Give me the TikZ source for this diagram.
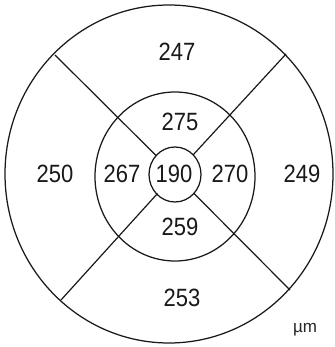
\documentclass[tikz,border=0pt]{standalone}
\usepackage{fontspec}
\setmainfont{Liberation Sans}
\begin{document}
\begin{tikzpicture}[x=1pt,y=-1pt,
  ring/.style={line width=1.25pt,draw=black!90},
  spoke/.style={line width=1.2pt,draw=black!90},
  val/.style={font=\fontsize{25}{25}\selectfont,xscale=0.88,inner sep=0pt,text=black!90},
  unit/.style={font=\fontsize{17}{17}\selectfont,inner sep=0pt,text=black!85}]
\useasboundingbox (0,0) rectangle (334,347);
% rings
\draw[ring] (169,174) ellipse [x radius=164pt, y radius=169pt];
\draw[ring] (175,176.5) ellipse [x radius=80pt, y radius=84.5pt];
\draw[ring] (175,174.5) ellipse [x radius=26pt, y radius=27.5pt];
% spoke end points
\coordinate (ulo) at (55,55);
\coordinate (uro) at (286,54);
\coordinate (llo) at (61,300);
\coordinate (lro) at (290,290);
\coordinate (uli) at (156.3,155.8);
\coordinate (uri) at (193,155);
\coordinate (lli) at (157.5,193.5);
\coordinate (lri) at (193.7,193.2);
\draw[spoke] (uli) -- (ulo);
\draw[spoke] (uri) -- (uro);
\draw[spoke] (lli) -- (llo);
\draw[spoke] (lri) -- (lro);
% values
\node[val] (sup) at (177,52) {247};
\node[val] (isup) at (180,122) {275};
\node[val] (tmp) at (55,174) {250};
\node[val] (itmp) at (122,174) {267};
\node[val] (ctr) at (174,174) {190};
\node[val] (inas) at (230,174) {270};
\node[val] (nas) at (302,174) {249};
\node[val] (iinf) at (180,227) {259};
\node[val] (inf) at (182,298) {253};
\node[unit] (um) at (305,330) {µm};
\end{tikzpicture}
\end{document}
